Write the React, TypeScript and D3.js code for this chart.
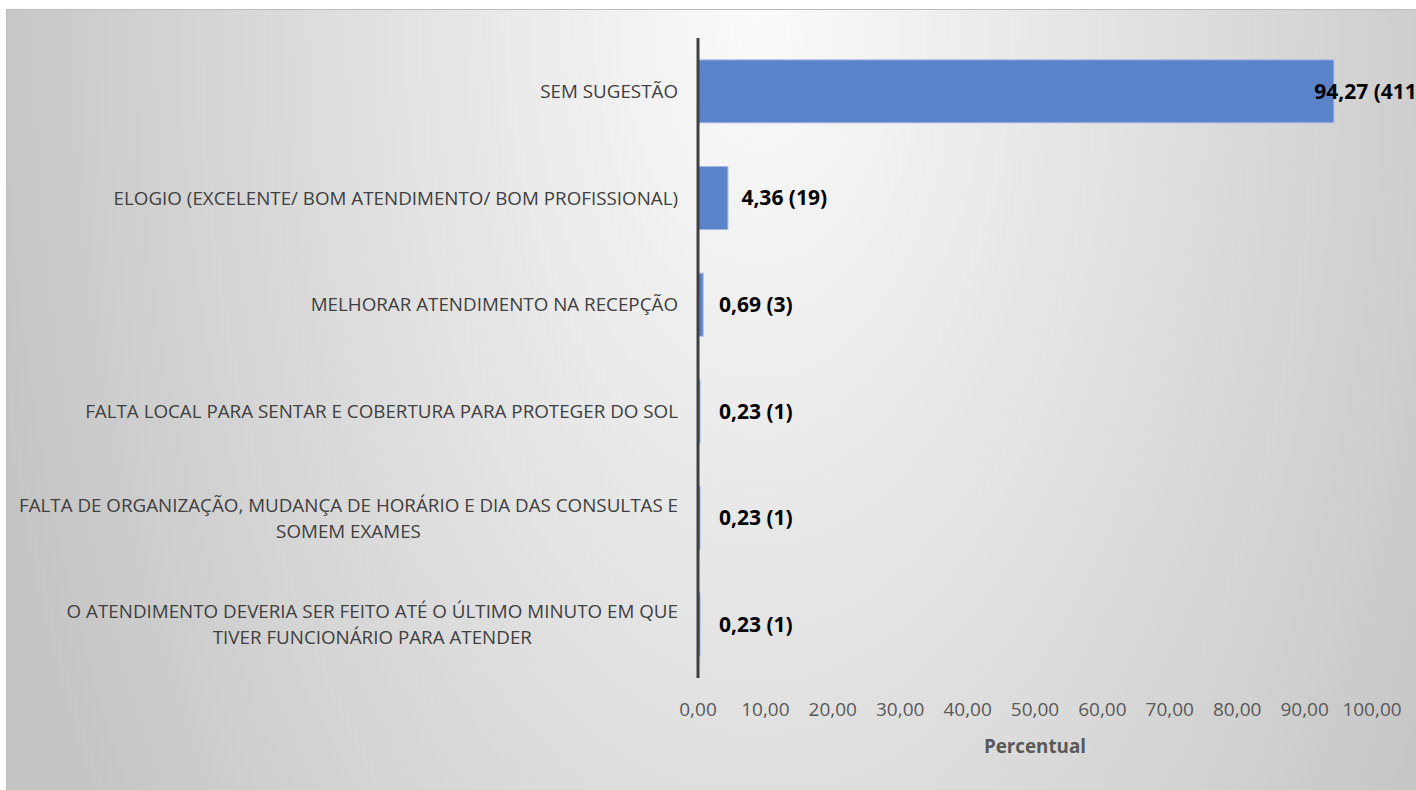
import React, { useEffect, useRef } from "react";
import * as d3 from "d3";

const categories = [
  "SEM SUGESTÃO",
  "ELOGIO (EXCELENTE/ BOM ATENDIMENTO/ BOM PROFISSIONAL)",
  "MELHORAR ATENDIMENTO NA RECEPÇÃO",
  "FALTA LOCAL PARA SENTAR E COBERTURA PARA PROTEGER DO SOL",
  "FALTA DE ORGANIZAÇÃO, MUDANÇA DE HORÁRIO E DIA DAS CONSULTAS E\nSOMEM EXAMES",
  "O ATENDIMENTO DEVERIA SER FEITO ATÉ O ÚLTIMO MINUTO EM QUE\nTIVER FUNCIONÁRIO PARA ATENDER",
];
const percentages = [94.27, 4.36, 0.69, 0.23, 0.23, 0.23];
const counts = [411, 19, 3, 1, 1, 1];
const xTicks = [0, 10, 20, 30, 40, 50, 60, 70, 80, 90, 100];
const xAxisTitle = "Percentual";

const W = 1416;
const H = 790;
const FONT = "'Open Sans', 'DejaVu Sans', sans-serif";

const fmt = (v: number) => v.toFixed(2).replace(".", ",");

export default function App() {
  const ref = useRef<SVGSVGElement | null>(null);

  useEffect(() => {
    const svg = d3.select(ref.current);
    svg.selectAll("*").remove();

    const defs = svg.append("defs");
    const grad = defs
      .append("radialGradient")
      .attr("id", "bgGrad")
      .attr("gradientUnits", "userSpaceOnUse")
      .attr("cx", 760)
      .attr("cy", 0)
      .attr("r", 790)
      .attr("gradientTransform", "translate(760,0) scale(1,1.9) translate(-760,0)");
    grad.append("stop").attr("offset", 0).attr("stop-color", "#fbfbfb");
    grad.append("stop").attr("offset", 1).attr("stop-color", "#c5c5c5");

    svg
      .append("rect")
      .attr("x", 6.5)
      .attr("y", 9.5)
      .attr("width", 1600)
      .attr("height", 1000)
      .attr("fill", "url(#bgGrad)")
      .attr("stroke", "#bcbcbc")
      .attr("stroke-width", 1);

    const x = d3.scaleLinear().domain([0, 100]).range([698, 1372]);
    const y = d3
      .scaleBand<string>()
      .domain(categories)
      .range([38, 678])
      .paddingInner(0.41)
      .paddingOuter(0.205);

    const data = categories.map((c, i) => ({ c, p: percentages[i], n: counts[i] }));

    // bars
    svg
      .append("g")
      .selectAll("rect")
      .data(data)
      .join("rect")
      .attr("x", x(0) + 0.5)
      .attr("y", (d) => y(d.c)!)
      .attr("width", (d) => Math.max(0, x(d.p) - x(0)))
      .attr("height", y.bandwidth())
      .attr("fill", "#5b83c9")
      .attr("stroke", "#a3b8e0")
      .attr("stroke-width", 1);

    // axis line
    svg
      .append("line")
      .attr("x1", x(0))
      .attr("x2", x(0))
      .attr("y1", 38)
      .attr("y2", 678)
      .attr("stroke", "#404040")
      .attr("stroke-width", 3);

    // category labels
    const catG = svg.append("g");
    data.forEach((d) => {
      const lines = d.c.split("\n");
      const lh = 26;
      const cy = y(d.c)! + y.bandwidth() / 2;
      const g = catG.append("g");
      const texts = lines.map((ln, k) =>
        g
          .append("text")
          .attr("y", cy + (k - (lines.length - 1) / 2) * lh)
          .attr("dy", "0.35em")
          .attr("font-family", FONT)
          .attr("font-size", 18.8)
          .attr("fill", "#404040")
          .attr("text-anchor", "middle")
          .text(ln)
      );
      const widths = texts.map((t) => (t.node() as SVGTextElement).getComputedTextLength());
      const maxW = Math.max(...widths);
      const right = x(0) - 20;
      texts.forEach((t) => t.attr("x", right - maxW / 2));
    });

    // data labels
    const chartRight = 1424;
    const lblG = svg.append("g");
    data.forEach((d) => {
      const t = lblG
        .append("text")
        .attr("y", y(d.c)! + y.bandwidth() / 2)
        .attr("dy", "0.35em")
        .attr("font-family", FONT)
        .attr("font-size", 21)
        .attr("font-weight", "bold")
        .attr("fill", "#000")
        .text(`${fmt(d.p)} (${d.n})`);
      const w = (t.node() as SVGTextElement).getComputedTextLength();
      let lx = Math.max(x(d.p) + 14, x(0) + 21);
      lx = Math.min(lx, chartRight - w);
      t.attr("x", lx);
    });

    // tick labels
    svg
      .append("g")
      .selectAll("text")
      .data(xTicks)
      .join("text")
      .attr("x", (v) => x(v))
      .attr("y", 709)
      .attr("dy", "0.35em")
      .attr("text-anchor", "middle")
      .attr("font-family", FONT)
      .attr("font-size", 19)
      .attr("fill", "#595959")
      .text((v) => fmt(v));

    // axis title
    svg
      .append("text")
      .attr("x", (x(0) + x(100)) / 2)
      .attr("y", 746)
      .attr("dy", "0.35em")
      .attr("text-anchor", "middle")
      .attr("font-family", FONT)
      .attr("font-size", 18.8)
      .attr("font-weight", "bold")
      .attr("fill", "#595959")
      .text(xAxisTitle);
  }, []);

  return (
    <svg
      ref={ref}
      width={W}
      height={H}
      style={{ position: "absolute", left: 0, top: 0, display: "block", background: "#fff" }}
    />
  );
}
